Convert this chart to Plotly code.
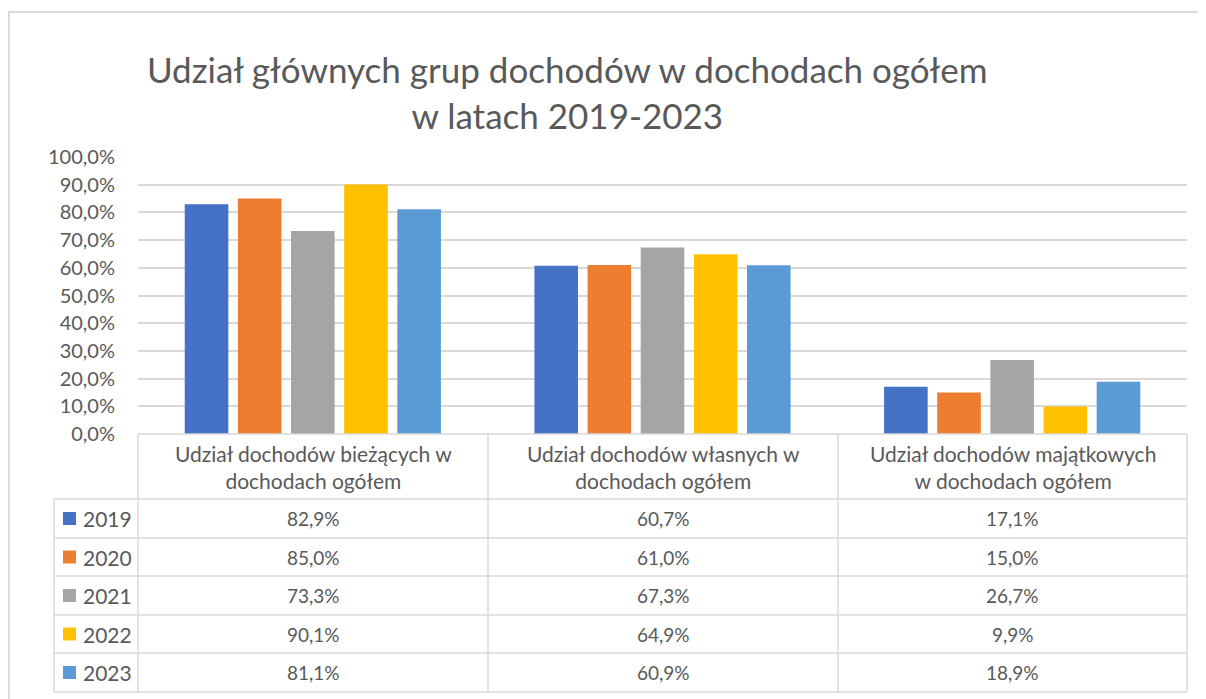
import plotly.graph_objects as go

categories = ["Udział dochodów bieżących w<br>dochodach ogółem",
              "Udział dochodów własnych w<br>dochodach ogółem",
              "Udział dochodów majątkowych<br>w dochodach ogółem"]
years = ["2019", "2020", "2021", "2022", "2023"]
values = {
    "2019": [82.9, 60.7, 17.1],
    "2020": [85.0, 61.0, 15.0],
    "2021": [73.3, 67.3, 26.7],
    "2022": [90.1, 64.9, 9.9],
    "2023": [81.1, 60.9, 18.9],
}
colors = ["#4472C4", "#ED7D31", "#A5A5A5", "#FFC000", "#5B9BD5"]
tick_vals = [0, 10, 20, 30, 40, 50, 60, 70, 80, 90, 100]
tick_text = ["0,0%", "10,0%", "20,0%", "30,0%", "40,0%", "50,0%", "60,0%", "70,0%", "80,0%", "90,0%", "100,0%"]

OFF = 8  # page body margin
W, H = 1206 - OFF, 699 - OFF
# reference pixel coordinates of plot area
L, R, T, B = 138, 1187, 157, 434
FONT = "Lato"
TXT = "#595959"
GRID = "#d9d9d9"

def px(x):
    return (x - L) / (R - L)

def py(y):
    return (B - y) / (B - T)

fig = go.Figure()
xs = [0, 1, 2]
for yr, c in zip(years, colors):
    fig.add_trace(go.Bar(x=xs, y=values[yr], name=yr, marker=dict(color=c, line=dict(width=0)),
                         showlegend=False, hoverinfo="skip"))

shapes = []
annotations = []
line = dict(color=GRID, width=1.5)

# outer chart frame
shapes.append(dict(type="rect", xref="paper", yref="paper", x0=px(9), x1=px(1230), y0=py(730), y1=py(12),
                   line=dict(color="#cfcfcf", width=1.5), fillcolor="rgba(0,0,0,0)", layer="below"))

# table grid
row_tops = [499, 538, 576, 615, 653, 692]
col_bounds = [L, 488, 838, R]
for x in col_bounds:
    shapes.append(dict(type="line", xref="paper", yref="paper", x0=px(x), x1=px(x), y0=py(B), y1=py(692), line=line))
shapes.append(dict(type="line", xref="paper", yref="paper", x0=px(54), x1=px(54), y0=py(499), y1=py(692), line=line))
for y in row_tops:
    shapes.append(dict(type="line", xref="paper", yref="paper", x0=px(54), x1=px(R), y0=py(y), y1=py(y), line=line))
shapes.append(dict(type="line", xref="paper", yref="paper", x0=px(L), x1=px(R), y0=py(B), y1=py(B), line=line))

# header texts
for i, cat in enumerate(categories):
    cx = (col_bounds[i] + col_bounds[i + 1]) / 2
    annotations.append(dict(x=px(cx), y=py(467), xref="paper", yref="paper", text=cat, showarrow=False,
                            font=dict(family=FONT, size=21, color=TXT), align="center",
                            xanchor="center", yanchor="middle"))

# rows
for r, (yr, c) in enumerate(zip(years, colors)):
    cy = (row_tops[r] + row_tops[r + 1]) / 2
    shapes.append(dict(type="rect", xref="paper", yref="paper", x0=px(63), x1=px(76),
                       y0=py(cy + 6.5), y1=py(cy - 6.5), fillcolor=c, line=dict(width=0)))
    annotations.append(dict(x=px(81), y=py(cy), xref="paper", yref="paper", text=yr, showarrow=False,
                            font=dict(family=FONT, size=21, color=TXT), xanchor="left", yanchor="middle"))
    for i in range(3):
        cx = (col_bounds[i] + col_bounds[i + 1]) / 2
        txt = f"{values[yr][i]:.1f}%".replace(".", ",")
        annotations.append(dict(x=px(cx), y=py(cy), xref="paper", yref="paper", text=txt, showarrow=False,
                                font=dict(family=FONT, size=19, color=TXT), xanchor="center", yanchor="middle"))

# title
annotations.append(dict(x=px(567), y=py(92), xref="paper", yref="paper",
                        text="Udział głównych grup dochodów w dochodach ogółem<br>w latach 2019-2023",
                        showarrow=False, font=dict(family=FONT, size=35, color=TXT), align="center",
                        xanchor="center", yanchor="middle"))

fig.update_layout(
    width=W, height=H,
    margin=dict(l=L - OFF, r=W - (R - OFF), t=T - OFF, b=H - (B - OFF), pad=0),
    paper_bgcolor="white", plot_bgcolor="white",
    barmode="group", bargap=0.24, bargroupgap=0.18,
    shapes=shapes, annotations=annotations,
    xaxis=dict(range=[-0.5, 2.5], showticklabels=False, showgrid=False, zeroline=False, ticks="",
               showline=False, fixedrange=True),
    yaxis=dict(range=[0, 100], tickvals=tick_vals, ticktext=tick_text,
               showgrid=True, gridcolor=GRID, gridwidth=1.5, zeroline=False, showline=False,
               tickfont=dict(family=FONT, size=20, color=TXT), ticks="outside", ticklen=18,
               tickcolor="rgba(0,0,0,0)", fixedrange=True),
    font=dict(family=FONT, color=TXT),
)

fig.write_html("out.html")
